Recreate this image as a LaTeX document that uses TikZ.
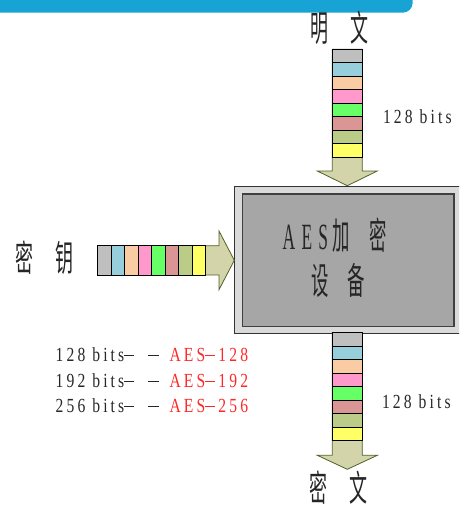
\documentclass[tikz,border=0pt]{standalone}
\usepackage{fontspec}
\setmainfont{Liberation Serif}
\newfontfamily\latsp[LetterSpace=20]{Liberation Serif}
\newfontfamily\latbox[LetterSpace=36]{Liberation Serif}
\newfontfamily\cjk{Noto Sans CJK SC}
\usepackage{graphicx}

\definecolor{banner}{RGB}{23,163,212}
\definecolor{cA}{RGB}{191,191,191}
\definecolor{cB}{RGB}{150,206,220}
\definecolor{cC}{RGB}{250,204,164}
\definecolor{cD}{RGB}{255,153,204}
\definecolor{cE}{RGB}{102,255,102}
\definecolor{cF}{RGB}{217,150,148}
\definecolor{cG}{RGB}{187,204,136}
\definecolor{cH}{RGB}{255,255,102}
\definecolor{arrowfill}{RGB}{212,212,170}
\definecolor{arrowline}{RGB}{79,98,40}
\definecolor{boxout}{RGB}{218,218,218}
\definecolor{boxin}{RGB}{166,166,166}
\definecolor{aesred}{RGB}{255,40,40}

\tikzset{
  blockarrow/.style={fill=arrowfill, draw=arrowline, line width=0.8pt, line join=miter},
  cell/.style={draw=black, line width=0.8pt},
  lbl/.style={inner sep=0pt, outer sep=0pt, text=black!85},
  outerbox/.style={draw=black!80, fill=boxout, line width=0.8pt, inner sep=0pt},
  innerbox/.style={draw=black!75, fill=boxin, line width=1.2pt, inner sep=0pt},
}

% long thin dash used in the key-length list
\newcommand{\dd}{\rule[5.5pt]{13pt}{1pt}\hspace{4pt}}
\newcommand{\bitslabel}[1]{\scalebox{0.78}[1]{\fontsize{20}{20}\latsp #1}}
\newcommand{\cjkpair}[2]{\scalebox{0.5}[1]{\fontsize{36}{36}\cjk #1\hspace{44pt}#2}}

\begin{document}
\begin{tikzpicture}[x=1pt, y=-1pt]
  \useasboundingbox (0,0) rectangle (459,505);
  \clip (0,0) rectangle (459,505);

  % title bar along the top
  \fill[banner, rounded corners=10pt] (-12,-12) rectangle (412.7,12.7);

  % encryption device
  \node[outerbox, anchor=north west, minimum width=250pt, minimum height=146.7pt] (dev) at (234,186) {};
  \node[innerbox, anchor=north west, minimum width=211.6pt, minimum height=132.4pt] (core) at (241.7,193.3) {};
  \node[lbl] (devA) at (335,235) {\scalebox{0.47}[1]{\fontsize{37}{37}\selectfont{\latbox AES}\hspace{10pt}\cjk 加\hspace{42pt}密}};
  \node[lbl] (devB) at (338.3,280) {\scalebox{0.47}[1]{\fontsize{37}{37}\cjk 设\hspace{40pt}备}};

  % plaintext block arrow (into the top of the device)
  \draw[blockarrow] (332.3,49.3) -- (362.3,49.3) -- (362.3,171) -- (377.3,171)
      -- (347.3,185.7) -- (317.3,171) -- (332.3,171) -- cycle;
  \foreach \c [count=\i from 0] in {cA,cB,cC,cD,cE,cF,cG,cH}
    \draw[cell, fill=\c] (332.3,49.3+13.5*\i) rectangle (362.3,62.8+13.5*\i);

  % ciphertext block arrow (out of the bottom of the device)
  \draw[blockarrow] (332.3,332.7) -- (362.3,332.7) -- (362.3,455.3) -- (377.3,455.3)
      -- (347.3,469.3) -- (317.3,455.3) -- (332.3,455.3) -- cycle;
  \foreach \c [count=\i from 0] in {cA,cB,cC,cD,cE,cF,cG,cH}
    \draw[cell, fill=\c] (332.3,332.7+13.5*\i) rectangle (362.3,346.2+13.5*\i);

  % key block arrow (into the left of the device)
  \draw[blockarrow] (97.7,245.7) -- (219,245.7) -- (219,231) -- (234.3,260.3)
      -- (219,289.7) -- (219,275) -- (97.7,275) -- cycle;
  \foreach \c [count=\i from 0] in {cA,cB,cC,cD,cE,cF,cG,cH}
    \draw[cell, fill=\c] (97.7+13.5*\i,245.7) rectangle (111.2+13.5*\i,275);

  % labels
  \node[lbl] (plain) at (339.5,28) {\cjkpair{明}{文}};
  \node[lbl] (cipher) at (338.3,487.5) {\cjkpair{密}{文}};
  \node[lbl] (key) at (45,258) {\cjkpair{密}{钥}};
  \node[lbl, anchor=west] (ptbits) at (383,117) {\bitslabel{128 bits}};
  \node[lbl, anchor=west] (ctbits) at (382,401.7) {\bitslabel{128 bits}};

  \node[lbl, anchor=west] (k128) at (55.7,355) {\bitslabel{128 bits\dd\hspace{14pt}\dd\hspace{10pt}\textcolor{aesred}{AES\dd 128}}};
  \node[lbl, anchor=west] (k192) at (55.7,381) {\bitslabel{192 bits\dd\hspace{14pt}\dd\hspace{10pt}\textcolor{aesred}{AES\dd 192}}};
  \node[lbl, anchor=west] (k256) at (55.7,406) {\bitslabel{256 bits\dd\hspace{14pt}\dd\hspace{10pt}\textcolor{aesred}{AES\dd 256}}};
\end{tikzpicture}
\end{document}
